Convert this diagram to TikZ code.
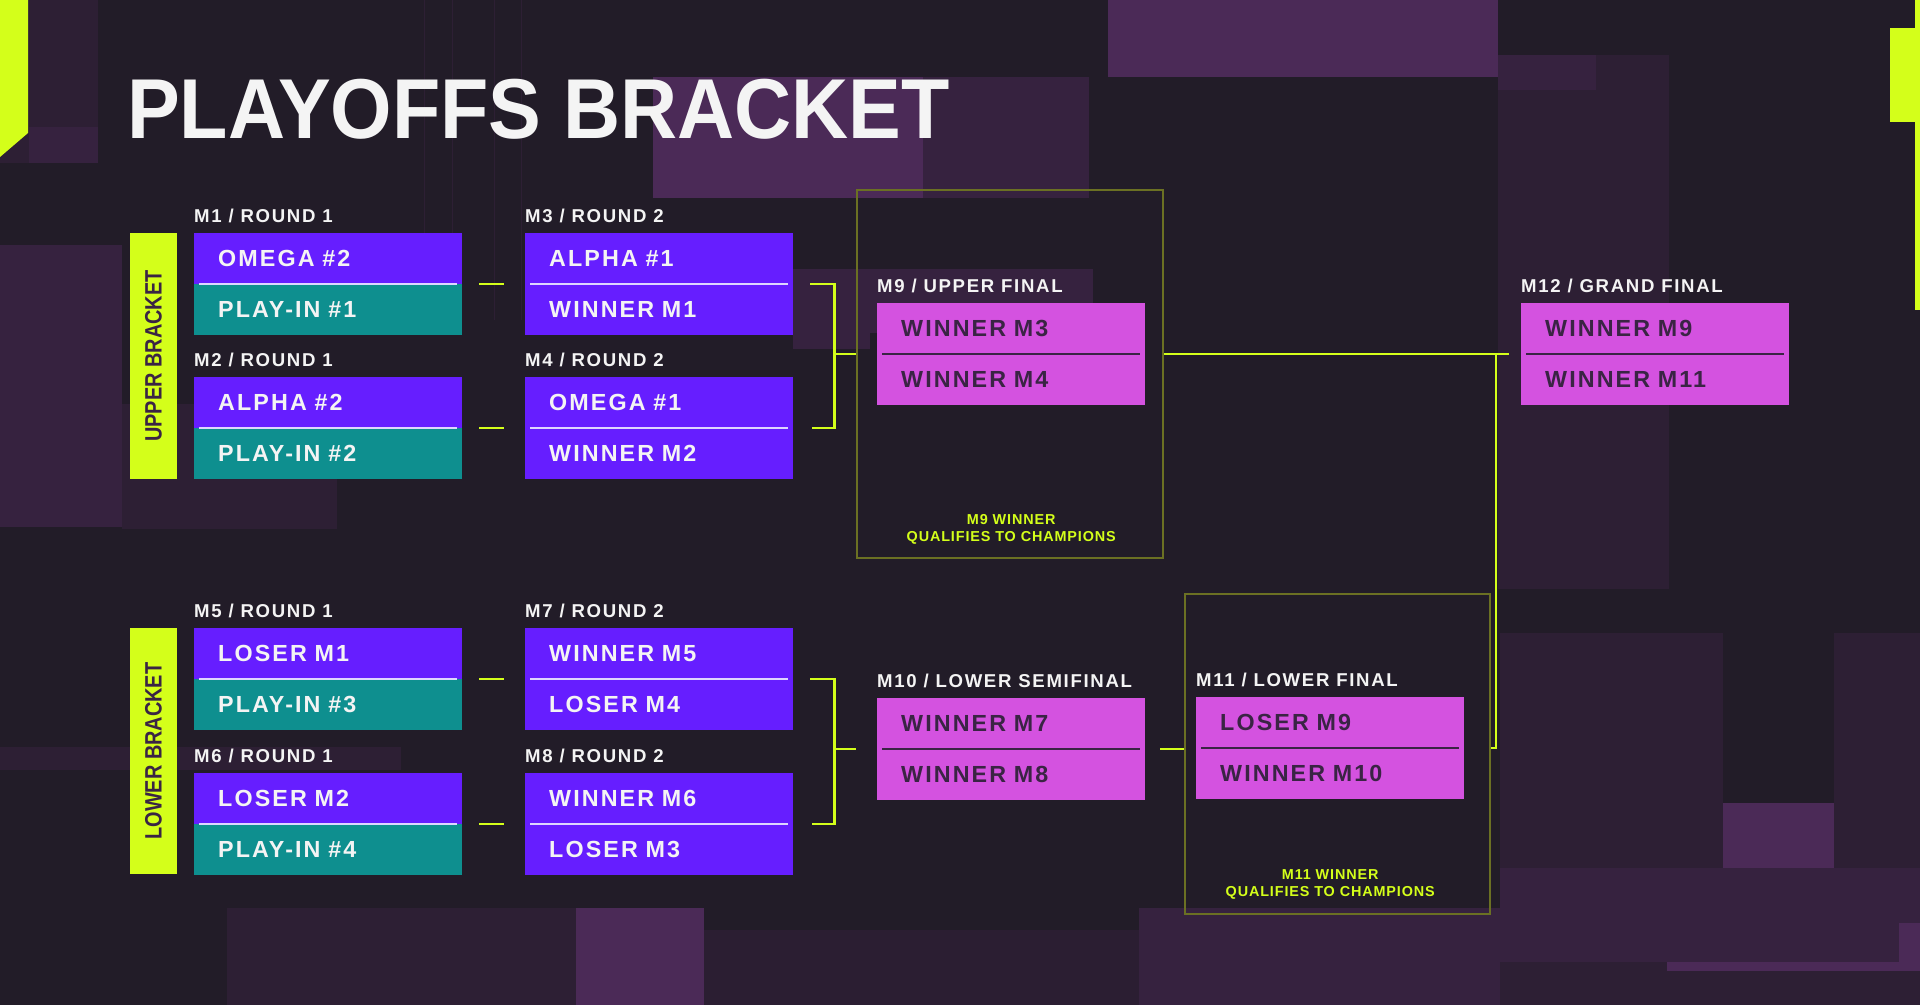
\documentclass[tikz,border=0pt]{standalone}
\usepackage{fontspec}
\setmainfont{Liberation Sans}
\newfontfamily\boxfont{Liberation Sans}[LetterSpace=9]
\newfontfamily\tagfont{Liberation Sans}[LetterSpace=9]
\newfontfamily\notefont{Liberation Sans}[LetterSpace=6]
\newfontfamily\barfont{Liberation Sans}[FakeStretch=0.84]
\newfontfamily\titlefont{Liberation Sans}[FakeStretch=0.93]
\usetikzlibrary{positioning}
\usepackage{xcolor}
\definecolor{bgdark}{RGB}{34,28,40}
\definecolor{glitcha}{RGB}{75,42,87}
\definecolor{glitchb}{RGB}{54,34,63}
\definecolor{glitchc}{RGB}{45,31,52}
\definecolor{limeword}{RGB}{212,255,26}
\definecolor{oliveframe}{RGB}{107,112,35}
\definecolor{violetbox}{RGB}{102,30,255}
\definecolor{tealbox}{RGB}{14,143,143}
\definecolor{pinkbox}{RGB}{212,82,224}
\definecolor{inkword}{RGB}{58,36,68}
\definecolor{paleline}{RGB}{222,214,255}
\definecolor{snowword}{RGB}{244,244,244}
% name, x, y, label, top team, bottom team, top style, bottom style, divider style
\newcommand{\match}[9]{%
  \node[#7] (#1a) at (#2,#3) {#5};
  \node[#8] (#1b) at (#1a.south west) {#6};
  \node[matchlabel] (#1l) at ([yshift=11pt]#1a.north west) {#4};
  \draw[#9] ([xshift=5pt]#1a.south west) -- ([xshift=-5pt]#1a.south east);}

\begin{document}
\begin{tikzpicture}[x=1pt,y=-1pt,
  half/.style={anchor=north west,minimum width=268pt,minimum height=50.5pt,text width=220pt,
    inner xsep=24pt,inner ysep=0pt,text height=16.7pt,text depth=0pt,align=left,
    text=snowword,font={\boxfont\fontsize{23.3}{24}\selectfont\bfseries}},
  violet/.style={half,fill=violetbox},
  teal/.style={half,fill=tealbox},
  pink/.style={half,fill=pinkbox,text=inkword},
  matchlabel/.style={anchor=base west,inner sep=0pt,text=snowword,
    font={\tagfont\fontsize{18.6}{20}\selectfont\bfseries}},
  divlight/.style={paleline,line width=2.5pt},
  divdark/.style={inkword,line width=2pt},
  bracketline/.style={limeword,line width=2.5pt},
  qualframe/.style={draw=oliveframe,line width=2pt,anchor=north west,inner sep=0pt},
  qualnote/.style={anchor=south,align=center,inner sep=0pt,text=limeword,
    font={\notefont\fontsize{14.4}{17}\selectfont\bfseries}},
  bracketbar/.style={fill=limeword,rotate=90,minimum width=246pt,minimum height=47pt,
    inner sep=0pt,text=inkword,font={\barfont\fontsize{23.7}{24}\selectfont\bfseries}}]

  \useasboundingbox (0,0) rectangle (1920,1005);
  \fill[bgdark] (0,0) rectangle (1920,1005);

  % glitch background
  \fill[glitchc] (0,0) rectangle (98,163);
  \fill[glitchb] (29,127) rectangle (98,163);
  \fill[glitcha] (1108,0) rectangle (1498,77);
  \fill[glitcha] (653,77) rectangle (923,198);
  \fill[glitchb] (923,77) rectangle (1089,198);
  \fill[glitchb] (793,269) rectangle (1093,333);
  \fill[glitchb] (793,333) rectangle (870,349);
  \fill[glitchc] (1498,55) rectangle (1669,589);
  \fill[glitchb] (1498,55) rectangle (1596,90);
  \fill[glitchb] (0,245) rectangle (122,527);
  \fill[glitchc] (122,404) rectangle (337,529);
  \fill[glitchc] (0,747) rectangle (401,770);
  \fill[glitchc] (227,908) rectangle (704,1005);
  \fill[glitcha] (576,908) rectangle (704,1005);
  \fill[glitchc!80!bgdark] (704,930) rectangle (1139,1005);
  \fill[glitchb] (1139,908) rectangle (1500,1005);
  \fill[glitchc] (1500,633) rectangle (1920,1005);
  \fill[bgdark] (1723,633) rectangle (1834,803);
  \fill[glitcha] (1723,803) rectangle (1834,868);
  \fill[glitchb] (1500,868) rectangle (1920,962);
  \fill[glitcha] (1667,962) rectangle (1920,971);
  \fill[glitcha] (1899,923) rectangle (1920,962);
  \foreach \lx in {424,452,494,521}
    \draw[glitchc,line width=1pt] (\lx,0) -- (\lx,320);

  % lime accents
  \fill[limeword] (0,0) -- (28,0) -- (28,133) -- (0,157) -- cycle;
  \fill[limeword] (1915,0) rectangle (1920,310);
  \fill[limeword] (1890,28) rectangle (1920,122);

  \node[anchor=base west,inner sep=0pt,text=snowword,
    font={\titlefont\fontsize{85}{85}\selectfont\bfseries}] (title) at (127,138) {PLAYOFFS BRACKET};

  \node[bracketbar] (ub) at (153.5,356) {UPPER BRACKET};
  \node[bracketbar] (lb) at (153.5,751) {LOWER BRACKET};

  \node[qualframe,minimum width=306pt,minimum height=368pt] (f9) at (856,189) {};
  \node[qualframe,minimum width=305pt,minimum height=320pt] (f11) at (1184,593) {};

  \match{m1}{194}{233}{M1 / ROUND 1}{OMEGA \#2}{PLAY-IN \#1}{violet}{teal}{divlight}
  \match{m2}{194}{377}{M2 / ROUND 1}{ALPHA \#2}{PLAY-IN \#2}{violet}{teal}{divlight}
  \match{m3}{525}{233}{M3 / ROUND 2}{ALPHA \#1}{WINNER M1}{violet}{violet}{divlight}
  \match{m4}{525}{377}{M4 / ROUND 2}{OMEGA \#1}{WINNER M2}{violet}{violet}{divlight}
  \match{m5}{194}{628}{M5 / ROUND 1}{LOSER M1}{PLAY-IN \#3}{violet}{teal}{divlight}
  \match{m6}{194}{773}{M6 / ROUND 1}{LOSER M2}{PLAY-IN \#4}{violet}{teal}{divlight}
  \match{m7}{525}{628}{M7 / ROUND 2}{WINNER M5}{LOSER M4}{violet}{violet}{divlight}
  \match{m8}{525}{773}{M8 / ROUND 2}{WINNER M6}{LOSER M3}{violet}{violet}{divlight}
  \match{m9}{877}{303}{M9 / UPPER FINAL}{WINNER M3}{WINNER M4}{pink}{pink}{divdark}
  \match{m10}{877}{698}{M10 / LOWER SEMIFINAL}{WINNER M7}{WINNER M8}{pink}{pink}{divdark}
  \match{m11}{1196}{697}{M11 / LOWER FINAL}{LOSER M9}{WINNER M10}{pink}{pink}{divdark}
  \match{m12}{1521}{303}{M12 / GRAND FINAL}{WINNER M9}{WINNER M11}{pink}{pink}{divdark}

  \node[qualnote] (q9) at ([yshift=14pt]m9b.south |- f9.south) {M9 WINNER\\QUALIFIES TO CHAMPIONS};
  \node[qualnote] (q11) at ([yshift=15pt]m11b.south |- f11.south) {M11 WINNER\\QUALIFIES TO CHAMPIONS};

  % connectors
  \draw[bracketline] ([xshift=17pt]m1a.south east) -- ([xshift=-21pt]m3a.south west);
  \draw[bracketline] ([xshift=17pt]m2a.south east) -- ([xshift=-21pt]m4a.south west);
  \draw[bracketline] ([xshift=17pt]m5a.south east) -- ([xshift=-21pt]m7a.south west);
  \draw[bracketline] ([xshift=17pt]m6a.south east) -- ([xshift=-21pt]m8a.south west);
  \coordinate (j34) at ([xshift=41pt]m3a.south east);
  \coordinate (j78) at ([xshift=41pt]m7a.south east);
  \draw[bracketline] ([xshift=17pt]m3a.south east) -- (j34) |- ([xshift=19pt]m4a.south east);
  \draw[bracketline] ([xshift=17pt]m7a.south east) -- (j78) |- ([xshift=19pt]m8a.south east);
  \draw[bracketline] (j34 |- m9a.south) -- (f9.west |- m9a.south);
  \draw[bracketline] (j78 |- m10a.south) -- ([xshift=-21pt]m10a.south west);
  \draw[bracketline] ([xshift=15pt]m10a.south east) -- (f11.west |- m10a.south);
  \draw[bracketline] (f9.east |- m9a.south) -- ([xshift=-12pt]m12a.south west);
  \draw[bracketline] ([xshift=-25pt]m12a.south west) |- (f11.east |- m11a.south);
\end{tikzpicture}
\end{document}
